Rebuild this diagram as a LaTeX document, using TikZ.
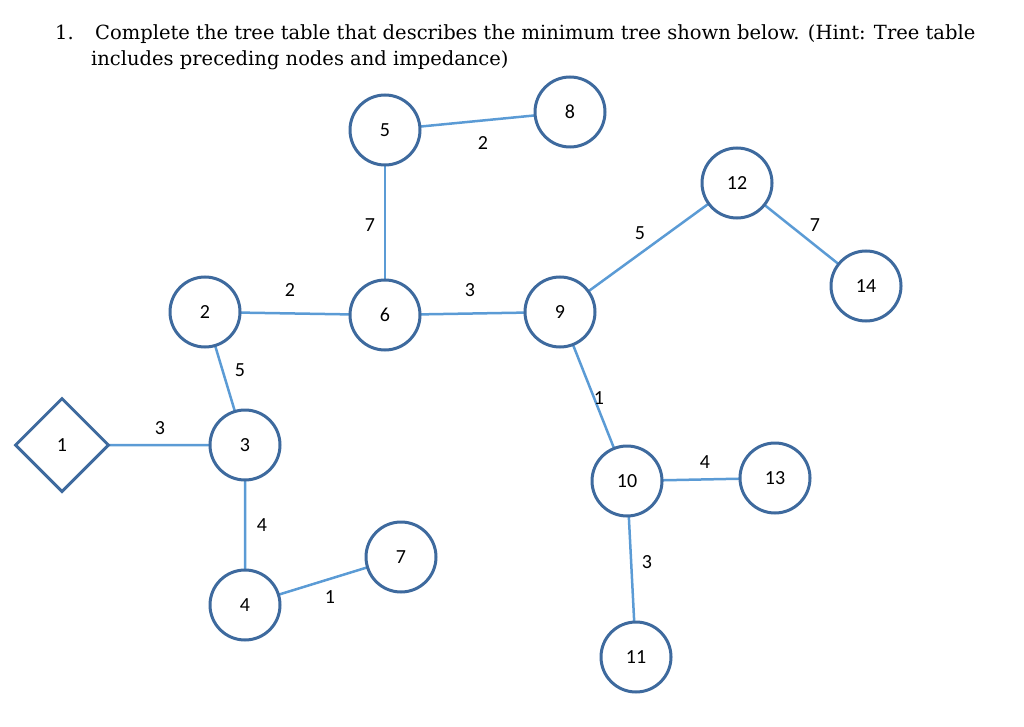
\documentclass[tikz,border=0pt]{standalone}
\usepackage{fontspec}
\setmainfont{DejaVu Serif}
\newfontfamily\lab{Carlito}
\usetikzlibrary{shapes.geometric}
\definecolor{ring}{RGB}{62,106,158}
\definecolor{edge}{RGB}{91,155,213}
\tikzset{
 vtx/.style={circle,draw=ring,line width=3pt,fill=white,minimum size=70pt,inner sep=0pt,font=\lab\fontsize{20}{20}\selectfont},
 src/.style={diamond,draw=ring,line width=3pt,fill=white,minimum size=94pt,inner sep=0pt,font=\lab\fontsize{20}{20}\selectfont},
 con/.style={draw=edge,line width=2.5pt},
 wt/.style={font=\lab\fontsize{20}{20}\selectfont,inner sep=1pt},
 ttl/.style={anchor=base west,font=\fontsize{19.5}{20}\selectfont,inner sep=0}
}
\begin{document}
\begin{tikzpicture}[x=1pt,y=-1pt]
\useasboundingbox (0,0) rectangle (1024,727);
\node[ttl] (t0) at (55,40) {1.};
\node[ttl] (t1) at (95,40) {Complete the tree table that describes the minimum tree shown below. (Hint: Tree table};
\node[ttl] (t2) at (91,66) {includes preceding nodes and impedance)};
\path[con] (385,130) -- (570,112);
\path[con] (385,130) -- (385,315);
\path[con] (205,312) -- (385,315) -- (560,312) -- (737,183) -- (866,286);
\path[con] (205,312) -- (245,445);
\path[con] (62,445) -- (245,445) -- (245,605) -- (401,557);
\path[con] (560,312) -- (627,481) -- (775,478);
\path[con] (627,481) -- (636,657);
\node[vtx] (n5) at (385,130) {5};
\node[vtx] (n8) at (570,112) {8};
\node[vtx] (n12) at (737,183) {12};
\node[vtx] (n14) at (866,286) {14};
\node[vtx] (n2) at (205,312) {2};
\node[vtx] (n6) at (385,315) {6};
\node[vtx] (n9) at (560,312) {9};
\node[src] (n1) at (62,445) {1};
\node[vtx] (n3) at (245,445) {3};
\node[vtx] (n10) at (627,481) {10};
\node[vtx] (n13) at (775,478) {13};
\node[vtx] (n7) at (401,557) {7};
\node[vtx] (n4) at (245,605) {4};
\node[vtx] (n11) at (636,657) {11};
\node[wt] at (483,143) {2};
\node[wt] at (370,225) {7};
\node[wt] at (290,290) {2};
\node[wt] at (470,290) {3};
\node[wt] at (640,233) {5};
\node[wt] at (815,225) {7};
\node[wt] at (240,370) {5};
\node[wt] at (160,428) {3};
\node[wt] at (599,398) {1};
\node[wt] at (262,525) {4};
\node[wt] at (330,597) {1};
\node[wt] at (705,462) {4};
\node[wt] at (647,562) {3};
\end{tikzpicture}
\end{document}
